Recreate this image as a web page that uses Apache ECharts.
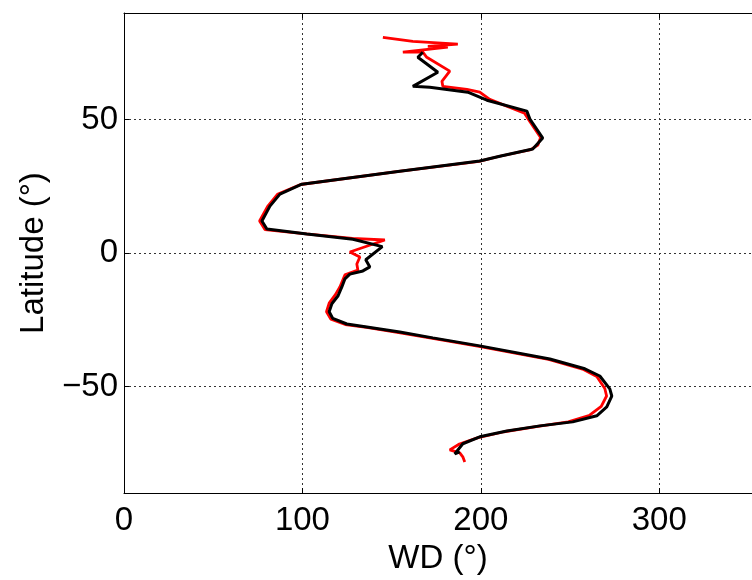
<!DOCTYPE html>
<html>
<head>
<meta charset="utf-8">
<script src="https://cdn.jsdelivr.net/npm/echarts@6/dist/echarts.min.js"></script>
<style>
html,body{margin:0;padding:0;background:#fff;}
#chart{width:752px;height:580px;}
</style>
</head>
<body>
<div id="chart"></div>
<script>
// Black curve (wind direction vs latitude)
const latBlack = [75.3, 73.4, 67.8, 62.5, 62.2, 60.3, 57.3, 53.2, 50.2, 43.1, 39.0, 36.3, 34.5, 30.7, 25.8, 22.1, 17.6, 12.0, 9.0, 7.1, 5.2, 2.4, -2.5, -5.2, -6.7, -7.9, -9.7, -12.7, -16, -19, -22, -24.5, -26.6, -27.7, -29.6, -31.8, -34.8, -39.7, -43.4, -46.1, -50.9, -53.6, -57.7, -61.0, -63.3, -64.8, -66.7, -68.9, -71.5, -75.3, -74.5];
const wdBlack  = [167.5, 164.7, 175.9, 161.9, 171.4, 192.7, 203.4, 225.8, 227.5, 234.7, 229.1, 210.6, 199.4, 154.6, 99.7, 87.4, 81.8, 77.3, 80.1, 102.5, 128.3, 144.8, 135.5, 137.8, 133.9, 126.6, 123.8, 122.1, 120, 116.5, 115, 117, 124.9, 136.1, 154.6, 173.1, 199.4, 238.7, 258.3, 266.7, 272.3, 273.4, 270.6, 265.0, 251.5, 233.1, 214.6, 199.4, 189.9, 185.4, 188.2];

// Red curve
const latRed = [80.9, 79.4, 78.3, 77.5, 77.2, 75.3, 75.3, 73.4, 68.2, 64.4, 62.5, 61.4, 60.3, 57.6, 52.4, 49.8, 43.3, 40.5, 38.8, 36.2, 34.4, 30.6, 25.7, 22, 17.5, 12, 8.8, 7.2, 5.5, 4.9, 0.4, -1.5, -4.1, -6.4, -8.2, -12.7, -15.6, -18.8, -22, -24.8, -26.8, -27.9, -29.8, -32, -35, -39.9, -43.5, -46.3, -50.8, -53.6, -57.5, -60.8, -63.3, -65, -67, -69.2, -71.6, -73.8, -74.9, -76.4, -78.3];
const wdRed  = [145.1, 161.9, 187.1, 170.3, 181.5, 156.3, 167.5, 169.7, 182.6, 178.2, 178.7, 192.2, 199.4, 205, 224.5, 227, 233.5, 232, 228, 210, 199, 154, 99, 86, 80.5, 76, 79, 102, 128, 146.2, 126.6, 132.2, 130.5, 131.1, 123.8, 121, 118.5, 115, 113.5, 116, 124, 136, 154, 173, 199, 238, 257, 265, 269.5, 270.5, 267.5, 261, 249, 232, 213, 198.5, 188, 182.6, 188.2, 189.9, 191.0];

const xTicks = [0, 100, 200, 300];
const yTicks = [-50, 0, 50];

const pairs = (xs, ys) => xs.map((x, i) => [x, ys[i]]);

const FONT = 'Liberation Sans';
const gridStyle = {show: true, lineStyle: {color: '#333', width: 1, type: [2, 3]}};

const chart = echarts.init(document.getElementById('chart'), null, {renderer: 'canvas'});
chart.setOption({
  animation: false,
  backgroundColor: '#fff',
  grid: {left: 124, right: 0, top: 13, bottom: 83, containLabel: false},
  xAxis: [{
    type: 'value', position: 'bottom', min: 0, max: 352, interval: 100,
    name: 'WD (°)', nameLocation: 'middle', nameGap: 42,
    nameTextStyle: {fontFamily: FONT, fontSize: 33, color: '#000'},
    axisLine: {show: true, onZero: false, lineStyle: {color: '#000', width: 1}},
    axisTick: {show: true, inside: true, length: 5, lineStyle: {color: '#000'}},
    axisLabel: {fontFamily: FONT, fontSize: 33, color: '#000', margin: 11, showMaxLabel: false,
      formatter: v => xTicks.includes(v) ? String(v) : ''},
    splitLine: gridStyle
  }, {
    type: 'value', position: 'top', min: 0, max: 352, interval: 100,
    axisLine: {show: true, onZero: false, lineStyle: {color: '#000', width: 1}},
    axisTick: {show: true, inside: true, length: 5, lineStyle: {color: '#000'}},
    axisLabel: {show: false},
    splitLine: {show: false}
  }],
  yAxis: [{
    type: 'value', min: -90, max: 90, minInterval: 50, maxInterval: 50,
    name: 'Latitude (°)', nameLocation: 'middle', nameGap: 74,
    nameTextStyle: {fontFamily: FONT, fontSize: 33, color: '#000'},
    axisLine: {show: true, onZero: false, lineStyle: {color: '#000', width: 1}},
    axisTick: {show: true, inside: true, length: 5, lineStyle: {color: '#000'}},
    axisLabel: {fontFamily: FONT, fontSize: 33, color: '#000', margin: 6,
      showMinLabel: false, showMaxLabel: false,
      formatter: v => yTicks.includes(v) ? String(v).replace('-', '\u2212') : ''},
    splitLine: gridStyle
  }],
  series: [{
    type: 'line', name: 'red', data: pairs(wdRed, latRed), xAxisIndex: 0, yAxisIndex: 0,
    showSymbol: false, symbol: 'none', z: 2,
    lineStyle: {color: '#ff0000', width: 2.8}
  }, {
    type: 'line', name: 'black', data: pairs(wdBlack, latBlack), xAxisIndex: 0, yAxisIndex: 0,
    showSymbol: false, symbol: 'none', z: 3,
    lineStyle: {color: '#000000', width: 3}
  }]
});
</script>
</body>
</html>
